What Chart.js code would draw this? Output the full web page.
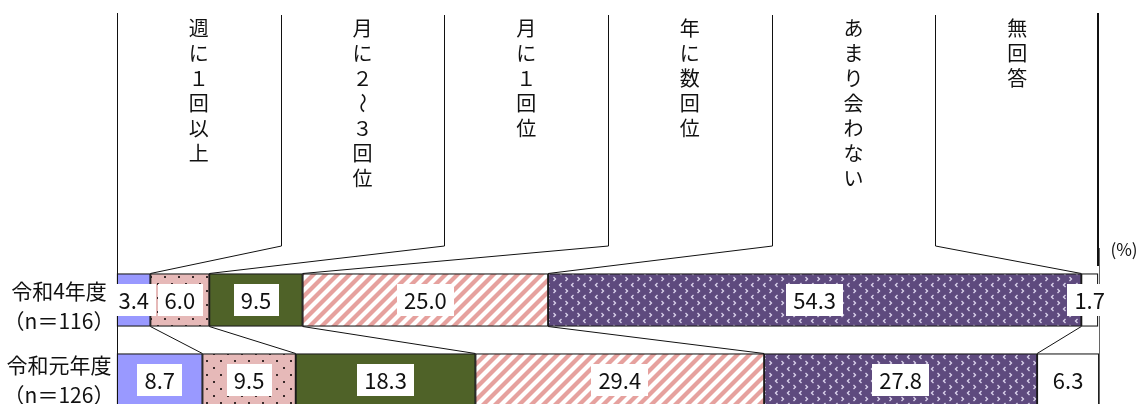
<!DOCTYPE html>
<html><head><meta charset="utf-8">
<script src="https://cdn.jsdelivr.net/npm/chart.js@4"></script>
<style>html,body{margin:0;padding:0;background:#fff;overflow:hidden}#wrap{width:1138px;height:404px;position:relative}</style>
</head><body><div id="wrap"><canvas id="c" width="1138" height="404"></canvas></div>
<script>
// ---- data ----
const categories = ['週に１回以上', '月に２～３回位', '月に１回位', '年に数回位', 'あまり会わない', '無回答'];
const rowLabels = [['令和4年度', '（n＝116）'], ['令和元年度', '（n＝126）']];
const valuesR4 = [3.4, 6.0, 9.5, 25.0, 54.3, 1.7];
const valuesR1 = [8.7, 9.5, 18.3, 29.4, 27.8, 6.3];
const unitLabel = '(%)';

const FONT = '"Noto Sans CJK JP", "Noto Sans", sans-serif';

function makeTile(w, h, draw) {
  const c = document.createElement('canvas');
  c.width = w; c.height = h;
  const g = c.getContext('2d');
  draw(g, w, h);
  return document.getElementById('c').getContext('2d').createPattern(c, 'repeat');
}
const dotFill = makeTile(14, 14, (g, w, h) => {
  g.fillStyle = '#e6b9b8'; g.fillRect(0, 0, w, h);
  g.fillStyle = '#3a2a2a';
  g.fillRect(3, 3, 2, 2); g.fillRect(10, 10, 2, 2);
});
const stripeFill = makeTile(12, 12, (g, s) => {
  g.fillStyle = '#ffffff'; g.fillRect(0, 0, s, s);
  g.strokeStyle = '#e6a19e'; g.lineWidth = 4.2;
  for (const c of [0, s, 2 * s]) {
    g.beginPath(); g.moveTo(c + 3, -3); g.lineTo(-3, c + 3); g.stroke();
  }
});
const chevronFill = makeTile(12, 12, (g, w, h) => {
  g.fillStyle = '#5e4a7e'; g.fillRect(0, 0, w, h);
  g.strokeStyle = '#ddd5ee'; g.lineWidth = 1.3;
  g.beginPath(); g.moveTo(1.5, 1); g.lineTo(3.5, 3); g.lineTo(1.5, 5); g.stroke();
  g.beginPath(); g.moveTo(9.5, 7); g.lineTo(7.5, 9); g.lineTo(9.5, 11); g.stroke();
});
const fills = ['#9999ff', dotFill, '#4f6228', stripeFill, chevronFill, '#ffffff'];

const decor = {
  id: 'decor',
  afterDatasetsDraw(chart) {
    const ctx = chart.ctx;
    const area = chart.chartArea;
    const n = categories.length;
    const metas = categories.map((_, i) => chart.getDatasetMeta(i));
    ctx.save();
    // connectors between rows
    ctx.strokeStyle = '#111'; ctx.lineWidth = 1;
    for (let i = 0; i < n - 1; i++) {
      const a = metas[i].data[0], b = metas[i].data[1];
      ctx.beginPath();
      ctx.moveTo(a.x, a.y + a.height / 2);
      ctx.lineTo(b.x, b.y - b.height / 2);
      ctx.stroke();
    }
    // leader lines from column labels
    const colW = (area.right - area.left) / n;
    for (let k = 1; k < n; k++) {
      const x = Math.round(area.left + k * colW) + 0.5;
      const el = metas[k - 1].data[0];
      ctx.beginPath();
      ctx.moveTo(x, 15);
      ctx.lineTo(x, 246);
      ctx.lineTo(el.x, el.y - el.height / 2);
      ctx.stroke();
    }
    // left frame line
    ctx.beginPath(); ctx.moveTo(area.left + 0.5, 13); ctx.lineTo(area.left + 0.5, 404); ctx.stroke();
    // right frame line
    ctx.lineWidth = 2;
    ctx.beginPath(); ctx.moveTo(area.right - 1, 13); ctx.lineTo(area.right - 1, 266); ctx.stroke();
    ctx.lineWidth = 1; ctx.strokeStyle = '#666';
    ctx.beginPath(); ctx.moveTo(area.right + 0.5, 248); ctx.lineTo(area.right + 0.5, 404); ctx.stroke();

    // value labels
    ctx.font = '22px ' + FONT;
    ctx.textAlign = 'center'; ctx.textBaseline = 'middle';
    for (let i = 0; i < n; i++) {
      metas[i].data.forEach((el, j) => {
        const v = chart.data.datasets[i].data[j];
        const t = v.toFixed(1);
        const cx = (el.x + el.base) / 2, cy = el.y;
        const w = ctx.measureText(t).width + 14, h = 32;
        ctx.fillStyle = '#fff';
        ctx.fillRect(Math.round(cx - w / 2), Math.round(cy - h / 2), Math.round(w), h);
        ctx.fillStyle = '#111';
        ctx.fillText(t, cx, cy + 1);
      });
    }

    // column headings (vertical)
    ctx.font = '20px ' + FONT;
    ctx.fillStyle = '#111';
    categories.forEach((name, k) => {
      const cx = area.left + (k + 0.5) * colW;
      Array.from(name).forEach((ch, j) => {
        const cy = 28 + j * 25;
        if (ch === '～') {
          ctx.save(); ctx.translate(cx, cy); ctx.rotate(Math.PI / 2);
          ctx.fillText(ch, 0, 0); ctx.restore();
        } else {
          ctx.fillText(ch, cx, cy);
        }
      });
    });

    // row labels
    ctx.font = '21px ' + FONT;
    const rowOffsets = [[-9, 21], [-15, 15]];
    rowLabels.forEach((lines, j) => {
      const y = metas[0].data[j].y;
      lines.forEach((ln, m) => ctx.fillText(ln, 59, y + rowOffsets[j][m]));
    });

    // unit
    ctx.font = '17px ' + FONT;
    ctx.fillText(unitLabel, area.right + 25, 250);
    ctx.restore();
  }
};

new Chart(document.getElementById('c'), {
  type: 'bar',
  data: {
    labels: rowLabels.map(l => l.join(' ')),
    datasets: categories.map((name, i) => ({
      label: name,
      data: [valuesR4[i], valuesR1[i]],
      backgroundColor: fills[i],
      borderColor: '#1a1a1a',
      borderWidth: 1.3,
      borderSkipped: false,
      barThickness: 53,
      clip: false
    }))
  },
  options: {
    indexAxis: 'y',
    responsive: false,
    devicePixelRatio: 1,
    animation: false,
    layout: { padding: { left: 117, right: 39, top: 300, bottom: 24 } },
    plugins: { legend: { display: false }, tooltip: { enabled: false } },
    scales: {
      x: { stacked: true, min: 0, max: 100, display: false },
      y: { stacked: true, display: false, offset: false }
    }
  },
  plugins: [decor]
});
</script>
</body></html>
